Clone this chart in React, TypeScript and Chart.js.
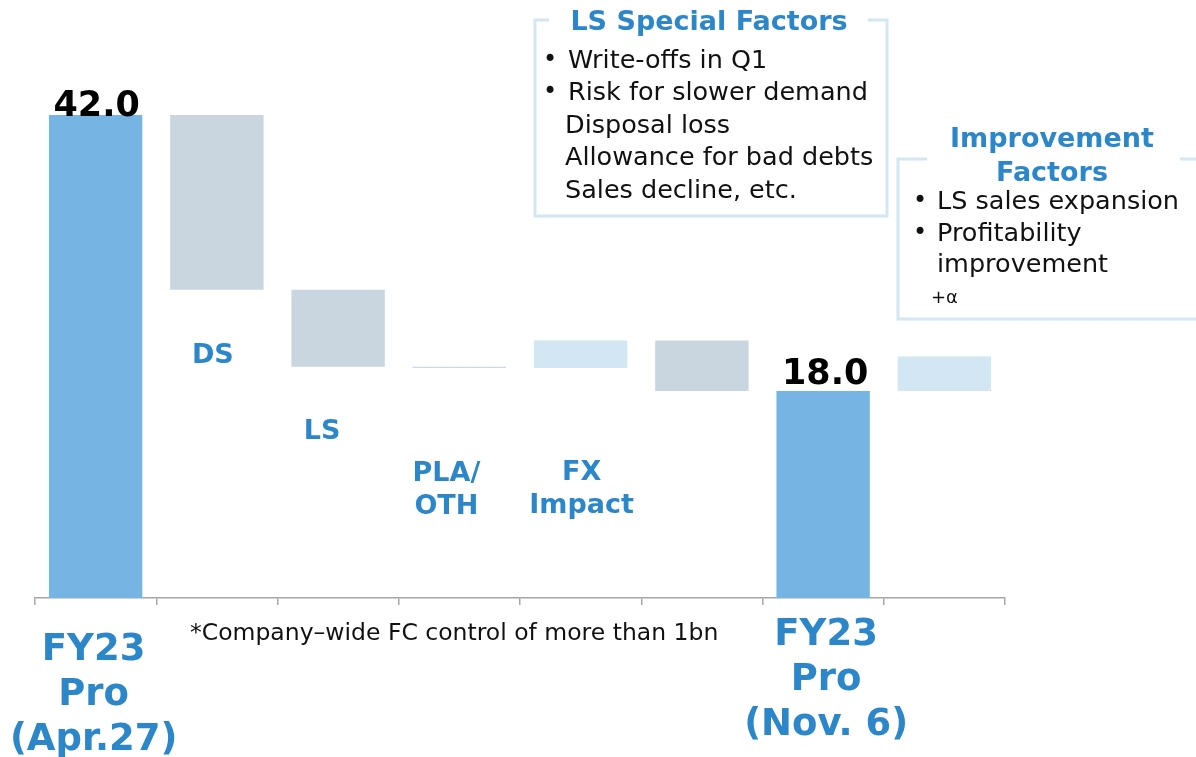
import React, { useEffect, useRef } from 'react';
import { Chart, registerables } from 'chart.js';

Chart.register(...registerables);

// ---- data ----
const categories = ['FY23 Pro (Apr.27)', 'DS', 'LS', 'PLA/OTH', 'FX Impact', 'FC control', 'FY23 Pro (Nov. 6)', 'Improvement'];
const startValue = 42.0;
const bridgeDeltas = [-15.2, -6.7, -0.1, 2.4, -4.4]; // DS, LS, PLA/OTH, FX Impact, FC control
const endValue = 18.0;
const improvementDelta = 3.0;
const valueLabels = ['42.0', '', '', '', '', '', '18.0', ''];
const barColors = ['#76b5e3', '#c9d5df', '#c9d5df', '#c8daea', '#d2e6f4', '#c9d5df', '#76b5e3', '#d2e6f4'];
const innerLabels = [[], ['DS'], ['LS'], ['PLA/', 'OTH'], ['FX', 'Impact'], [], [], []];
const bottomLabels = [['FY23', 'Pro', '(Apr.27)'], [], [], [], [], [], ['FY23', 'Pro', '(Nov. 6)'], []];
const footnote = '*Company\u2013wide FC control of more than 1bn';
const lsTitle = 'LS Special Factors';
const lsItems = [
  { bullet: true, text: 'Write-offs in Q1' },
  { bullet: true, text: 'Risk for slower demand' },
  { bullet: false, text: 'Disposal loss' },
  { bullet: false, text: 'Allowance for bad debts' },
  { bullet: false, text: 'Sales decline, etc.' },
];
const impTitle = ['Improvement', 'Factors'];
const impItems = [
  { bullet: true, text: 'LS sales expansion' },
  { bullet: true, text: 'Profitability' },
  { bullet: false, text: 'improvement' },
];
const impExtra = '+\u03b1';

// floating ranges built from the values above
const ranges: [number, number][] = [];
ranges.push([0, startValue]);
let running = startValue;
for (const d of bridgeDeltas) {
  const next = running + d;
  ranges.push([Math.min(running, next), Math.max(running, next)]);
  running = next;
}
ranges.push([0, endValue]);
ranges.push([endValue, endValue + improvementDelta]);

const FONT = '"DejaVu Sans", Verdana, sans-serif';
const BLUE_TEXT = '#2b87c9';
const BOX = '#d3e6f4';

const valueDx = [1, 0, 0, 0, 0, 0, 2, 0];
const valueDy = [1, 0, 0, 0, 0, 0, -7, 0];
const innerDx = [0, -4, -16, -13, 1, 0, 0, 0];
const innerDy = [0, 73, 72, 113, 112, 0, 0, 0];
const bottomDx = [-2, 0, 0, 0, 0, 0, 3, 0];
const bottomDy = [62, 0, 0, 0, 0, 0, 47, 0];

const overlayPlugin = {
  id: 'overlay',
  afterDraw(chart: any) {
    const ctx = chart.ctx as CanvasRenderingContext2D;
    const xs = chart.scales.x;
    const ys = chart.scales.y;
    const axisY = chart.chartArea.bottom;
    ctx.save();

    // value labels
    ctx.fillStyle = '#000';
    ctx.textAlign = 'center';
    ctx.textBaseline = 'alphabetic';
    ctx.font = `bold 35px ${FONT}`;
    valueLabels.forEach((t, i) => {
      if (!t) return;
      const top = ys.getPixelForValue(ranges[i][1]);
      ctx.fillText(t, xs.getPixelForValue(i) + valueDx[i], top + valueDy[i]);
    });

    // labels under floating bars
    ctx.fillStyle = BLUE_TEXT;
    ctx.font = `bold 27px ${FONT}`;
    innerLabels.forEach((lines, i) => {
      if (!lines.length) return;
      const bottom = ys.getPixelForValue(ranges[i][0]);
      lines.forEach((l, k) => {
        ctx.fillText(l, xs.getPixelForValue(i) + innerDx[i], bottom + innerDy[i] + k * 33);
      });
    });

    // labels below axis
    ctx.font = `bold 37px ${FONT}`;
    bottomLabels.forEach((lines, i) => {
      if (!lines.length) return;
      lines.forEach((l, k) => {
        ctx.fillText(l, xs.getPixelForValue(i) + bottomDx[i], axisY + bottomDy[i] + k * 45);
      });
    });

    // footnote
    ctx.fillStyle = '#111';
    ctx.textAlign = 'left';
    ctx.font = `23.5px ${FONT}`;
    ctx.fillText(footnote, 190, 640);

    // LS special factors box
    ctx.strokeStyle = BOX;
    ctx.lineWidth = 3;
    ctx.beginPath();
    ctx.moveTo(549, 20);
    ctx.lineTo(535, 20);
    ctx.lineTo(535, 216);
    ctx.lineTo(887, 216);
    ctx.lineTo(887, 20);
    ctx.lineTo(868, 20);
    ctx.stroke();
    ctx.fillStyle = BLUE_TEXT;
    ctx.textAlign = 'center';
    ctx.font = `bold 27px ${FONT}`;
    ctx.fillText(lsTitle, 709, 30);
    ctx.textAlign = 'left';
    lsItems.forEach((it, k) => {
      const by = 68 + k * 32.4;
      ctx.fillStyle = '#111';
      if (it.bullet) {
        ctx.font = `24px ${FONT}`;
        ctx.textAlign = 'center';
        ctx.fillText('\u2022', 550, by - 1);
        ctx.textAlign = 'left';
      }
      ctx.font = `25.5px ${FONT}`;
      ctx.fillText(it.text, it.bullet ? 568 : 565, by);
    });

    // Improvement factors box
    ctx.beginPath();
    ctx.moveTo(927, 159);
    ctx.lineTo(898, 159);
    ctx.lineTo(898, 319);
    ctx.lineTo(1200, 319);
    ctx.moveTo(1180, 159);
    ctx.lineTo(1200, 159);
    ctx.stroke();
    ctx.fillStyle = BLUE_TEXT;
    ctx.textAlign = 'center';
    ctx.font = `bold 27px ${FONT}`;
    impTitle.forEach((t, k) => ctx.fillText(t, 1052, 147 + k * 34));
    ctx.textAlign = 'left';
    impItems.forEach((it, k) => {
      const by = 209 + k * 31.5;
      ctx.fillStyle = '#111';
      if (it.bullet) {
        ctx.font = `24px ${FONT}`;
        ctx.textAlign = 'center';
        ctx.fillText('\u2022', 920, by - 1);
        ctx.textAlign = 'left';
      }
      ctx.font = `25.5px ${FONT}`;
      ctx.fillText(it.text, 937, by);
    });
    ctx.font = `18px ${FONT}`;
    ctx.fillText(impExtra, 931, 303);

    ctx.restore();
  },
};

export default function App() {
  const canvasRef = useRef<HTMLCanvasElement | null>(null);

  useEffect(() => {
    if (!canvasRef.current) return;
    const chart = new Chart(canvasRef.current, {
      type: 'bar',
      data: {
        labels: categories,
        datasets: [
          {
            data: ranges as any,
            backgroundColor: barColors,
            borderWidth: 0,
            barPercentage: 0.77,
            categoryPercentage: 1,
          },
        ],
      },
      options: {
        animation: false,
        responsive: true,
        maintainAspectRatio: false,
        layout: { padding: { left: 35, right: 191, top: 0, bottom: 0 } },
        plugins: {
          legend: { display: false },
          tooltip: { enabled: false },
          title: { display: false },
        },
        scales: {
          x: {
            type: 'category',
            offset: true,
            grid: {
              display: true,
              offset: true,
              drawOnChartArea: false,
              drawTicks: true,
              tickLength: 7,
              color: '#a6a6a6',
              lineWidth: 1.5,
            },
            border: { display: true, color: '#a6a6a6', width: 1.5 },
            ticks: { display: false },
            afterFit: (s: any) => {
              s.height = 757 - 598;
            },
          },
          y: {
            display: false,
            min: 0,
            max: 52,
          },
        },
      },
      plugins: [overlayPlugin],
    });
    return () => chart.destroy();
  }, []);

  return (
    <div style={{ position: 'absolute', left: 0, top: 0, width: 1196, height: 757, background: '#fff' }}>
      <canvas ref={canvasRef} />
    </div>
  );
}
